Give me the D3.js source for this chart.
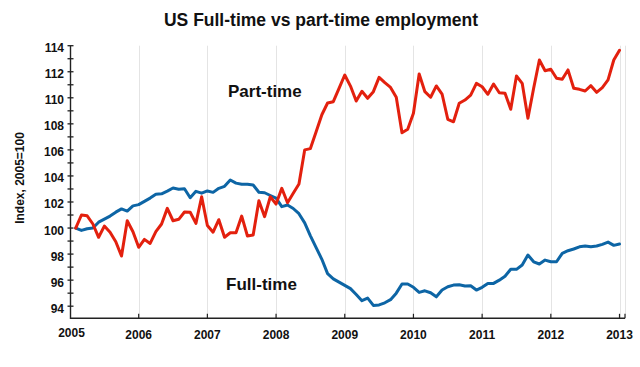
<!DOCTYPE html>
<html>
<head>
<meta charset="utf-8">
<script src="https://cdn.jsdelivr.net/npm/d3@7"></script>
<style>
  html, body { margin: 0; padding: 0; background: #fff; }
  svg { display: block; font-family: "Liberation Sans", Arial, Helvetica, sans-serif; }
</style>
</head>
<body>
<svg id="chart" width="640" height="367"></svg>
<script>
// ---- data (monthly, Jan 2005 .. Dec 2012, index 2005=100) ----
const title = "US Full-time vs part-time employment";
const yTitle = "Index, 2005=100";
const xTickYears = [2005, 2006, 2007, 2008, 2009, 2010, 2011, 2012, 2013];
const yTickValues = [94, 96, 98, 100, 102, 104, 106, 108, 110, 112, 114];
const yMinorTicks = [95, 97, 99, 101, 103, 105, 107, 109, 111, 113];
const seriesNames = ["Full-time", "Part-time"];

const fullTime = [
  100.0, 99.82, 99.95, 100.0, 100.45, 100.68, 100.92, 101.22, 101.47, 101.3, 101.7, 101.8,
  102.05, 102.3, 102.6, 102.63, 102.83, 103.07, 102.98, 103.02, 102.33, 102.82, 102.68, 102.85,
  102.74, 103.05, 103.2, 103.69, 103.45, 103.36, 103.36, 103.3, 102.75, 102.71, 102.5, 102.3,
  101.64, 101.77, 101.5, 101.1, 100.4, 99.4, 98.5, 97.6, 96.5, 96.1, 95.85, 95.6,
  95.35, 94.9, 94.42, 94.62, 94.06, 94.1, 94.26, 94.5, 95.0, 95.7, 95.7, 95.45,
  95.06, 95.18, 95.03, 94.72, 95.24, 95.49, 95.62, 95.65, 95.55, 95.57, 95.24, 95.45,
  95.75, 95.75, 96.0, 96.3, 96.83, 96.83, 97.16, 97.93, 97.41, 97.24, 97.54, 97.41,
  97.41, 98.06, 98.26, 98.39, 98.56, 98.62, 98.56, 98.62, 98.75, 98.92, 98.67, 98.77
];
const partTime = [
  100.0, 101.0, 100.94, 100.31, 99.29, 100.15, 99.67, 98.95, 97.85, 100.56, 99.72, 98.52,
  99.13, 98.82, 99.72, 100.31, 101.51, 100.56, 100.67, 101.23, 101.21, 100.36, 102.4, 100.2,
  99.68, 100.64, 99.29, 99.64, 99.64, 100.92, 99.39, 99.46, 102.1, 100.87, 102.4, 101.84,
  103.05, 101.94, 102.67, 103.38, 106.0, 106.1, 107.4, 108.7, 109.6, 109.7, 110.73, 111.75,
  110.9, 109.75, 110.5, 109.96, 110.47, 111.57, 111.16, 110.8, 110.04, 107.32, 107.58, 108.81,
  111.83, 110.47, 110.04, 110.91, 110.29, 108.35, 108.16, 109.58, 109.83, 110.21, 111.11, 110.85,
  110.27, 111.06, 110.39, 110.35, 109.12, 111.67, 111.11, 108.43, 110.73, 112.9, 112.08, 112.19,
  111.5, 111.42, 112.14, 110.73, 110.65, 110.52, 110.93, 110.42, 110.78, 111.37, 112.9, 113.65
];
// time position of each observation (year + month/12)
const times = fullTime.map((_, i) => 2005 + (i + 1) / 12);

// ---- layout ----
const svg = d3.select("#chart");
const x = d3.scaleLinear().domain([2005, 2013.08]).range([70, 625]);
const y = d3.scaleLinear().domain([93.07, 114]).range([318.3, 45.7]);

// grid lines (vertical, per year)
svg.append("g").selectAll("line")
  .data(xTickYears.slice(1).concat([2013.08]))
  .join("line")
  .attr("x1", d => Math.round(x(d)) + 0.5).attr("x2", d => Math.round(x(d)) + 0.5)
  .attr("y1", y(114)).attr("y2", y(93.07))
  .attr("stroke", "#e4e4e4").attr("stroke-width", 1);

// title
svg.append("text")
  .attr("x", 321).attr("y", 26)
  .attr("text-anchor", "middle")
  .attr("font-size", 17.5).attr("font-weight", "bold")
  .attr("fill", "#111")
  .text(title);

// y-axis title
svg.append("text")
  .attr("transform", "translate(23.5,178) rotate(-90)")
  .attr("text-anchor", "middle")
  .attr("font-size", 12).attr("font-weight", "bold")
  .attr("fill", "#111")
  .text(yTitle);

// lines
const line = d3.line().x((d, i) => x(times[i])).y(d => y(d));
svg.append("path").datum(fullTime)
  .attr("d", line).attr("fill", "none")
  .attr("stroke", "#0d65a5").attr("stroke-width", 3)
  .attr("stroke-linejoin", "round").attr("stroke-linecap", "round");
svg.append("path").datum(partTime)
  .attr("d", line).attr("fill", "none")
  .attr("stroke", "#e3200e").attr("stroke-width", 3)
  .attr("stroke-linejoin", "round").attr("stroke-linecap", "round");

// y axis
const yAx = svg.append("g");
yAx.append("line")
  .attr("x1", 70.5).attr("x2", 70.5).attr("y1", y(114)).attr("y2", y(93.07) + 0.7)
  .attr("stroke", "#222").attr("stroke-width", 1.4);
yAx.selectAll("line.major").data(yTickValues).join("line").attr("class", "major")
  .attr("x1", 67.5).attr("x2", 73.5)
  .attr("y1", d => y(d)).attr("y2", d => y(d))
  .attr("stroke", "#222").attr("stroke-width", 1.3);
yAx.selectAll("line.minor").data(yMinorTicks).join("line").attr("class", "minor")
  .attr("x1", 67.5).attr("x2", 73.5)
  .attr("y1", d => y(d)).attr("y2", d => y(d))
  .attr("stroke", "#222").attr("stroke-width", 1.3);
yAx.selectAll("text").data(yTickValues).join("text")
  .attr("x", 64).attr("y", d => y(d) + 6.5)
  .attr("text-anchor", "end")
  .attr("font-size", 12).attr("font-weight", "bold").attr("fill", "#111")
  .text(d => d);

// x axis
const xAx = svg.append("g");
xAx.append("line")
  .attr("x1", 70).attr("x2", x(2013.08)).attr("y1", 318.3).attr("y2", 318.3)
  .attr("stroke", "#222").attr("stroke-width", 1.4);
xAx.selectAll("line.tick").data(xTickYears.slice(1).concat([2013.08])).join("line").attr("class", "tick")
  .attr("x1", d => x(d)).attr("x2", d => x(d))
  .attr("y1", 318.3).attr("y2", 313.8)
  .attr("stroke", "#222").attr("stroke-width", 1.2);
xAx.selectAll("text").data(xTickYears).join("text")
  .attr("x", d => d === 2005 ? 71.5 : x(d))
  .attr("y", d => d === 2005 ? 337 : 339)
  .attr("text-anchor", "middle")
  .attr("font-size", 12).attr("font-weight", "bold").attr("fill", "#111")
  .text(d => d);

// series labels
svg.append("text")
  .attr("x", 228).attr("y", 97)
  .attr("font-size", 17).attr("font-weight", "bold").attr("fill", "#111")
  .text(seriesNames[1]);
svg.append("text")
  .attr("x", 226).attr("y", 290)
  .attr("font-size", 17).attr("font-weight", "bold").attr("fill", "#111")
  .text(seriesNames[0]);
</script>
</body>
</html>
